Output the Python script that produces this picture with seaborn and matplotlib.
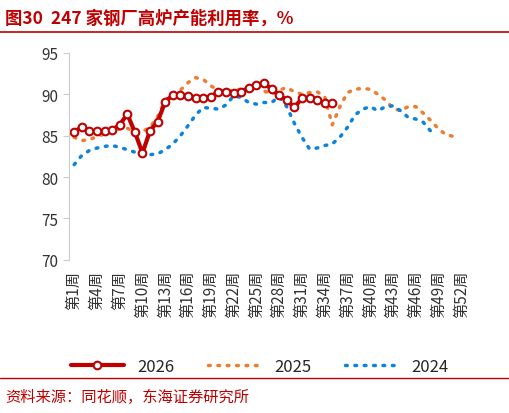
import matplotlib
matplotlib.use("Agg")
import matplotlib.pyplot as plt
import seaborn as sns
import numpy as np

sns.set_style("white")
plt.rcParams['font.family'] = ['Noto Sans CJK SC', 'DejaVu Sans']

y2026 = [85.4,86.1,85.5,85.5,85.5,85.7,86.3,87.6,85.4,82.9,85.6,86.7,89.1,89.9,89.9,89.8,89.6,89.6,89.7,90.3,90.3,90.2,90.3,90.8,91.1,91.4,90.6,89.9,89.3,88.4,89.5,89.6,89.3,88.9,89.0]
y2025 = [84.8,84.4,84.5,84.9,85.2,85.5,85.8,85.9,85.4,85.5,86.0,87.3,89.3,90.0,90.5,91.4,92.0,91.8,91.0,90.5,90.3,90.5,90.6,90.8,90.9,90.4,90.0,90.5,90.8,90.3,90.0,90.2,90.3,89.7,86.3,88.5,90.2,90.6,90.7,90.6,90.0,89.3,88.3,88.0,88.5,88.5,87.7,86.8,85.8,85.1,84.9]
y2024 = [81.5,82.6,83.2,83.5,83.7,83.8,83.6,83.3,83.0,82.8,82.7,82.8,83.3,84.0,85.0,86.2,87.5,88.4,88.3,88.2,88.7,89.8,89.6,89.0,88.8,89.0,89.0,89.7,88.5,86.5,84.8,83.4,83.5,83.8,84.0,84.8,86.0,87.5,88.2,88.5,88.0,88.5,88.6,88.0,87.2,87.0,86.6,85.5]
weeks = [f"第{i}周" for i in range(1, 53)]

fig = plt.figure(figsize=(5.10, 4.14), dpi=100)
ax = fig.add_axes([0.135, 0.37, 0.78, 0.50])
sns.lineplot(x=np.arange(1, len(y2025)+1), y=y2025, ax=ax, color="#ED7D31", lw=2.5, ls=(0, (0.5, 2.2)), dash_capstyle='round', label="2025")
sns.lineplot(x=np.arange(1, len(y2024)+1), y=y2024, ax=ax, color="#0A84E0", lw=2.5, ls=(0, (0.5, 2.2)), dash_capstyle='round', label="2024")
sns.lineplot(x=np.arange(1, len(y2026)+1), y=y2026, ax=ax, color="#C00000", lw=3, marker='o', markersize=5.5,
             markerfacecolor='white', markeredgecolor='#C00000', markeredgewidth=1.5, label="2026")
ax.set_xlim(0.3, 52.7)
ax.set_ylim(70, 95)
ax.set_yticks(range(70, 96, 5))
ax.set_xticks(range(1, 53, 3))
ax.set_xticklabels(weeks[::3], rotation=90, fontsize=11, color="#333333")
ax.tick_params(axis='y', labelsize=11, colors="#333333")
for s in ['top', 'right', 'bottom']:
    ax.spines[s].set_visible(False)
ax.spines['left'].set_color('#cccccc')
ax.tick_params(axis='y', left=True, length=4, color='#cccccc')
h, l = ax.get_legend_handles_labels()
order = [2, 0, 1]
ax.legend([h[i] for i in order], [l[i] for i in order], loc='upper center', bbox_to_anchor=(0.48, -0.4),
          ncol=3, frameon=False, fontsize=12, handlelength=3.2, columnspacing=2.0)

fig.text(0.01, 0.955, "图30  247 家钢厂高炉产能利用率，%", color="#C00000", fontsize=12.5, fontweight='bold', va='center')
fig.add_artist(plt.Line2D([0, 1], [0.92, 0.92], color="#C00000", lw=1.2))
fig.add_artist(plt.Line2D([0, 1], [0.085, 0.085], color="#C00000", lw=1.0))
fig.text(0.01, 0.04, "资料来源：同花顺，东海证券研究所", color="#C00000", fontsize=11, va='center')
fig.savefig("out.png", dpi=100)
